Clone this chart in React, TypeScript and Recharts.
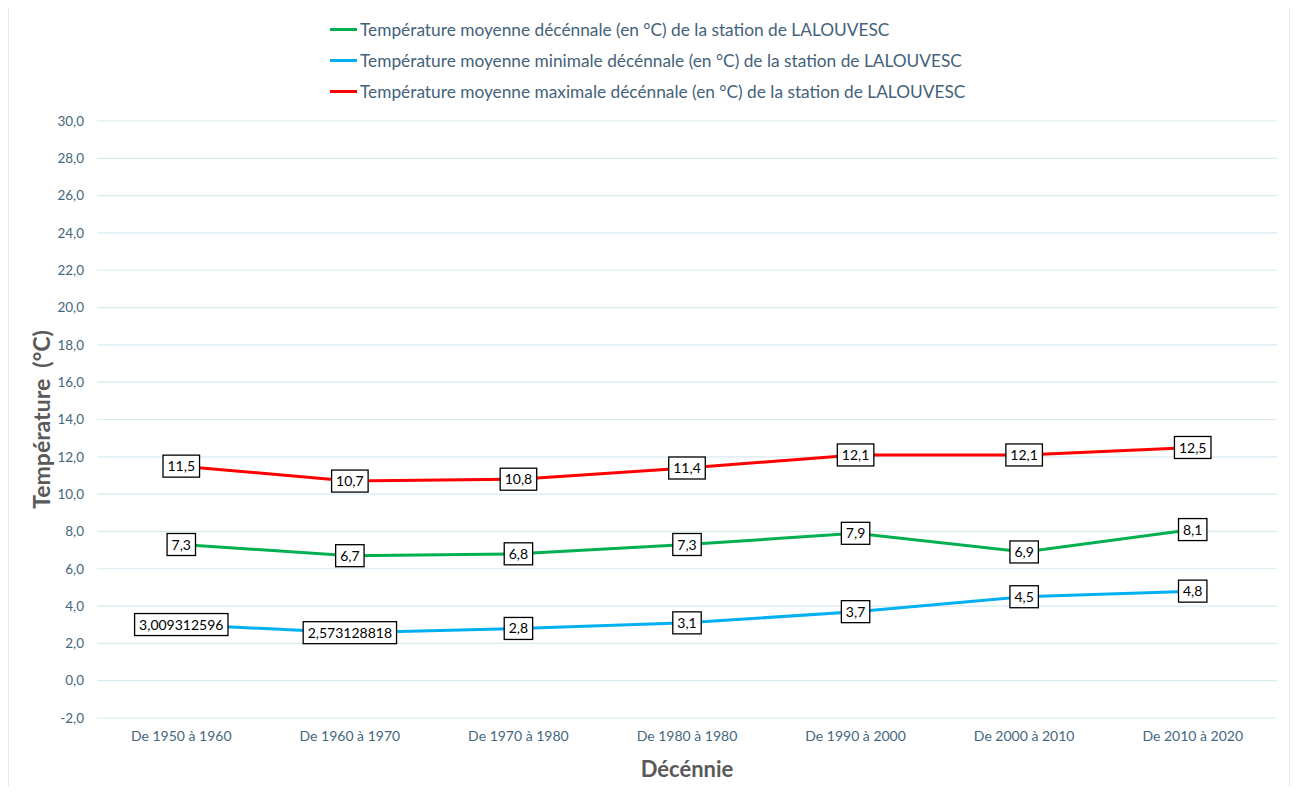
import { CartesianGrid, LabelList, Line, LineChart, XAxis, YAxis } from "recharts";

const decades = [
  "De 1950 à 1960",
  "De 1960 à 1970",
  "De 1970 à 1980",
  "De 1980 à 1980",
  "De 1990 à 2000",
  "De 2000 à 2010",
  "De 2010 à 2020",
];
const moyenne = [7.3, 6.7, 6.8, 7.3, 7.9, 6.9, 8.1];
const minimale = [3.009312596, 2.573128818, 2.8, 3.1, 3.7, 4.5, 4.8];
const maximale = [11.5, 10.7, 10.8, 11.4, 12.1, 12.1, 12.5];
const yTicks = [-2, 0, 2, 4, 6, 8, 10, 12, 14, 16, 18, 20, 22, 24, 26, 28, 30];

const series = [
  { key: "moy", color: "#00b050", name: "Température moyenne décénnale (en °C) de la station de LALOUVESC" },
  { key: "min", color: "#00b0f0", name: "Température moyenne minimale décénnale (en °C) de la station de LALOUVESC" },
  { key: "max", color: "#ff0000", name: "Température moyenne maximale décénnale (en °C) de la station de LALOUVESC" },
];

const data = decades.map((d, i) => ({
  decade: d,
  moy: moyenne[i],
  min: minimale[i],
  max: maximale[i],
}));

const FONT = "Lato, 'Noto Sans', sans-serif";
const fmt = (v: number) => String(v).replace(".", ",");
const fmtTick = (v: number) => v.toFixed(1).replace(".", ",");

let ctx: CanvasRenderingContext2D | null = null;
function textWidth(s: string, size: number) {
  if (!ctx) ctx = document.createElement("canvas").getContext("2d");
  if (!ctx) return s.length * size * 0.5;
  ctx.font = `${size}px ${FONT}`;
  return ctx.measureText(s).width;
}

function BoxLabel(props: any) {
  const { x, y, value } = props;
  if (x == null || y == null) return null;
  const s = fmt(value);
  const w = textWidth(s, 14) + 9;
  const h = 22;
  return (
    <g>
      <rect x={x - w / 2} y={y - h / 2} width={w} height={h} fill="#fff" stroke="#000" strokeWidth={1.3} />
      <text x={x} y={y} dy="0.36em" textAnchor="middle" fontSize={14} fill="#000" fontFamily={FONT}>
        {s}
      </text>
    </g>
  );
}

export default function App() {
  return (
    <div style={{ position: "relative", width: 1298, height: 794, margin: -8, background: "#fff", overflow: "hidden" }}>
      <div
        style={{
          position: "absolute",
          left: 8,
          top: 6,
          width: 1282,
          height: 820,
          border: "1px solid #dfebf0",
          boxSizing: "border-box",
        }}
      />
      <div
        style={{
          position: "absolute",
          left: 330,
          top: 14,
          fontFamily: FONT,
          fontSize: 17.3,
          color: "#44627a",
        }}
      >
        {series.map((s) => (
          <div key={s.key} style={{ display: "flex", alignItems: "center", height: 31 }}>
            <span style={{ display: "inline-block", width: 27, height: 3, background: s.color, marginRight: 3 }} />
            <span>{s.name}</span>
          </div>
        ))}
      </div>
      <LineChart
        width={1298}
        height={794}
        data={data}
        margin={{ top: 121, right: 21, bottom: 0, left: 0 }}
        style={{ position: "absolute", left: 0, top: 0 }}
      >
        <CartesianGrid vertical={false} stroke="#d8eaf0" strokeWidth={1.2} />
        <XAxis
          dataKey="decade"
          scale="band"
          axisLine={false}
          tickLine={false}
          tickSize={0}
          tickMargin={13}
          height={76}
          interval={0}
          tick={{ fill: "#44677d", fontSize: 14, fontFamily: FONT }}
          label={{
            content: (p: any) => (
              <text
                x={p.viewBox.x + p.viewBox.width / 2}
                y={p.viewBox.y + 59}
                textAnchor="middle"
                fontSize={22}
                fontWeight="bold"
                fill="#595959"
                fontFamily={FONT}
              >
                Décénnie
              </text>
            ),
          }}
        />
        <YAxis
          domain={[-2, 30]}
          ticks={yTicks}
          interval={0}
          width={97}
          axisLine={false}
          tickLine={false}
          tickSize={0}
          tickMargin={13}
          tickFormatter={fmtTick}
          tick={{ fill: "#44677d", fontSize: 13.5, fontFamily: FONT }}
          label={{
            content: (p: any) => {
              const cx = p.viewBox.x + 42;
              const cy = p.viewBox.y + p.viewBox.height / 2;
              return (
                <text
                  x={cx}
                  y={cy}
                  transform={`rotate(-90 ${cx} ${cy})`}
                  textAnchor="middle"
                  dy="0.35em"
                  fontSize={23}
                  fontWeight="bold"
                  fill="#595959"
                  fontFamily={FONT}
                  style={{ whiteSpace: "pre" }}
                >
                  {"Température  (°C)"}
                </text>
              );
            },
          }}
        />
        {series.map((s) => (
          <Line
            key={s.key}
            name={s.name}
            dataKey={s.key}
            type="linear"
            stroke={s.color}
            strokeWidth={3}
            dot={false}
            isAnimationActive={false}
          >
            <LabelList dataKey={s.key} content={<BoxLabel />} />
          </Line>
        ))}
      </LineChart>
    </div>
  );
}
